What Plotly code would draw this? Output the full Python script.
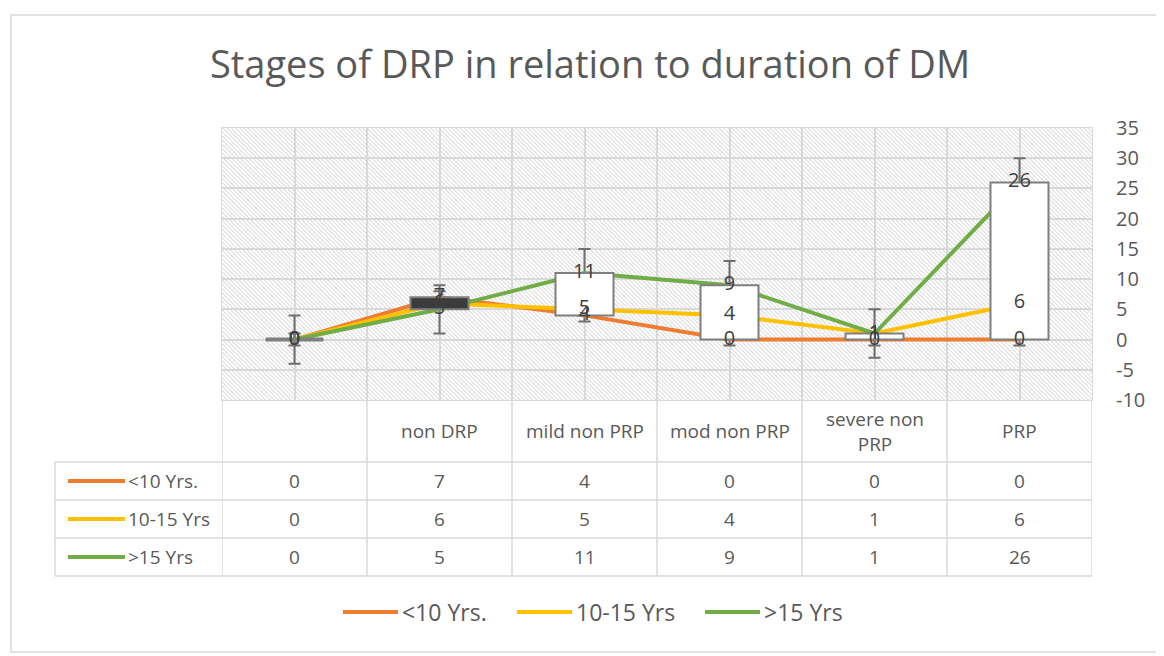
import base64
import plotly.graph_objects as go

# -------------------------
# DATA
# -------------------------
stages = ["", "non DRP", "mild non PRP", "mod non PRP", "severe non PRP", "PRP"]
stage_labels = ["", "non DRP", "mild non PRP", "mod non PRP", "severe non<br>PRP", "PRP"]
series_names = ["<10 Yrs.", "10-15 Yrs", ">15 Yrs"]
under_10 = [0, 7, 4, 0, 0, 0]
from_10_to_15 = [0, 6, 5, 4, 1, 6]
over_15 = [0, 5, 11, 9, 1, 26]
err_under_10 = [1, 1, 1, 1, 1, 1]
err_over_15 = [4, 4, 4, 4, 4, 4]
y_ticks = [-10, -5, 0, 5, 10, 15, 20, 25, 30, 35]
y_tick_text = ["-10", "-5", "0", "5", "10", "15", "20", "25", "30", "35"]

colors = ["#ED7D31", "#FFC000", "#70AD47"]
text_col = "#595959"
grid_col = "#d9d9d9"
FONT = "Open Sans"

# page has an 8px body margin, so the figure is shrunk by that much
OFF = 8
W, H = 1164 - OFF, 656 - OFF
L, R, T, B = 222 - OFF, 72, 128 - OFF, 256
PW, PH = W - L - R, H - T - B


def xp(px):
    # page pixel -> paper x
    return (px - OFF - L) / PW


def yp(py):
    # page pixel -> paper y
    return (H - B - (py - OFF)) / PH


xs = list(range(len(stages)))
all_series = [under_10, from_10_to_15, over_15]

fig = go.Figure()

# lines with error bars (main axes)
errs = [err_under_10, None, err_over_15]
for name, vals, col, er in zip(series_names, all_series, colors, errs):
    fig.add_trace(go.Scatter(
        x=xs, y=vals, name=name, mode="lines",
        line=dict(color=col, width=4),
        error_y=dict(type="data", array=er, visible=er is not None,
                     color="#6f6f6f", thickness=2, width=6),
        showlegend=False,
    ))

# up-down bars between first and last series (overlay axes so they sit above lines)
first, last = under_10, over_15
bases = [min(a, b) for a, b in zip(first, last)]
heights = [abs(b - a) for a, b in zip(first, last)]
fills = ["#ffffff" if b >= a else "#3b3b3b" for a, b in zip(first, last)]
fig.add_trace(go.Bar(
    x=xs, y=heights, base=bases, width=0.4,
    marker=dict(color=fills, line=dict(color="#7f7f7f", width=2)),
    xaxis="x2", yaxis="y2", showlegend=False, hoverinfo="skip",
))
flat = [i for i, h in enumerate(heights) if h == 0]
fig.add_trace(go.Scatter(
    x=flat, y=[bases[i] for i in flat], mode="markers",
    marker=dict(symbol="line-ew", size=41, line=dict(color="#7f7f7f", width=4)),
    xaxis="x2", yaxis="y2", showlegend=False, hoverinfo="skip",
))

# data labels
for vals in all_series:
    fig.add_trace(go.Scatter(
        x=xs, y=vals, mode="text", text=[str(v) for v in vals],
        textposition="middle center",
        textfont=dict(family=FONT, size=20, color="#404040"),
        xaxis="x2", yaxis="y2", showlegend=False, hoverinfo="skip",
    ))

# hatched plot background
svg = (
    f"<svg xmlns='http://www.w3.org/2000/svg' width='{PW}' height='{PH}'>"
    "<defs><pattern id='h' width='3' height='3' patternUnits='userSpaceOnUse' "
    "patternTransform='rotate(-45)'><rect width='0.9' height='3' fill='#d6d6d6'/></pattern></defs>"
    f"<rect width='{PW}' height='{PH}' fill='#ffffff'/>"
    f"<rect width='{PW}' height='{PH}' fill='url(#h)'/></svg>"
)
src = "data:image/svg+xml;base64," + base64.b64encode(svg.encode()).decode()

shapes = []
annotations = []

# table lines
line_style = dict(color=grid_col, width=1.5)
row_tops = [400, 462, 500, 538, 576]
for i in range(len(stages) + 1):
    shapes.append(dict(type="line", xref="x", yref="paper", x0=i - 0.5, x1=i - 0.5,
                       y0=yp(400), y1=yp(576), line=line_style))
shapes.append(dict(type="line", xref="paper", yref="paper", x0=xp(55), x1=xp(55),
                   y0=yp(462), y1=yp(576), line=line_style))
for ry in row_tops[1:]:
    shapes.append(dict(type="line", xref="paper", yref="paper", x0=xp(55), x1=xp(1092),
                       y0=yp(ry), y1=yp(ry), line=line_style))

# header
for i, lab in enumerate(stage_labels):
    annotations.append(dict(x=i, y=yp(431), xref="x", yref="paper", text=lab, showarrow=False,
                            xanchor="center", yanchor="middle",
                            font=dict(family=FONT, size=19, color=text_col)))

# table rows
for r, (name, vals, col) in enumerate(zip(series_names, all_series, colors)):
    cy = (row_tops[r + 1] + row_tops[r + 2]) / 2
    shapes.append(dict(type="line", xref="paper", yref="paper", x0=xp(68), x1=xp(125),
                       y0=yp(cy), y1=yp(cy), line=dict(color=col, width=4)))
    annotations.append(dict(x=xp(126), y=yp(cy), xref="paper", yref="paper", text=name,
                            xanchor="left", yanchor="middle", showarrow=False,
                            font=dict(family=FONT, size=19, color=text_col)))
    for i, v in enumerate(vals):
        annotations.append(dict(x=i, y=yp(cy), xref="x", yref="paper", text=str(v),
                                xanchor="center", yanchor="middle", showarrow=False,
                                font=dict(family=FONT, size=19, color=text_col)))

# bottom legend
leg_x = [343, 517, 705]
for name, col, lx in zip(series_names, colors, leg_x):
    shapes.append(dict(type="line", xref="paper", yref="paper", x0=xp(lx), x1=xp(lx + 55),
                       y0=yp(612), y1=yp(612), line=dict(color=col, width=4)))
    annotations.append(dict(x=xp(lx + 57), y=yp(612), xref="paper", yref="paper", text=name,
                            xanchor="left", yanchor="middle", showarrow=False,
                            font=dict(family=FONT, size=23, color=text_col)))

# outer frame
shapes.append(dict(type="rect", xref="paper", yref="paper", x0=xp(11), x1=xp(1160), y0=yp(15), y1=yp(652),
                   line=dict(color=grid_col, width=1.5), layer="below"))

xr = [-0.5, len(stages) - 0.5]
yr = [-10, 35]
fig.update_layout(
    width=W, height=H,
    margin=dict(l=L, r=R, t=T, b=B),
    paper_bgcolor="white", plot_bgcolor="white",
    title=dict(text="Stages of DRP in relation to duration of DM", x=(590 - OFF) / W, xref="container",
               y=1 - (65 - OFF) / H, yref="container", xanchor="center", yanchor="middle",
               font=dict(family=FONT, size=38, color=text_col)),
    xaxis=dict(range=xr, tick0=-0.5, dtick=0.5, showticklabels=False, ticks="",
               showgrid=True, gridcolor=grid_col, gridwidth=1.5, zeroline=False,
               showline=True, linecolor=grid_col, mirror=True),
    yaxis=dict(range=yr, tickvals=y_ticks, ticktext=y_tick_text, side="right",
               showgrid=True, gridcolor=grid_col, gridwidth=1.5, zeroline=False,
               ticks="outside", ticklen=19, tickcolor="rgba(0,0,0,0)",
               tickfont=dict(family=FONT, size=20, color=text_col),
               showline=True, linecolor=grid_col, mirror=True),
    xaxis2=dict(range=xr, overlaying="x", visible=False),
    yaxis2=dict(range=yr, overlaying="y", visible=False),
    images=[dict(source=src, xref="paper", yref="paper", x=0, y=1, sizex=1, sizey=1,
                 sizing="stretch", xanchor="left", yanchor="top", layer="below")],
    shapes=shapes, annotations=annotations,
    showlegend=False, barmode="overlay",
)

fig.write_html("out.html")
